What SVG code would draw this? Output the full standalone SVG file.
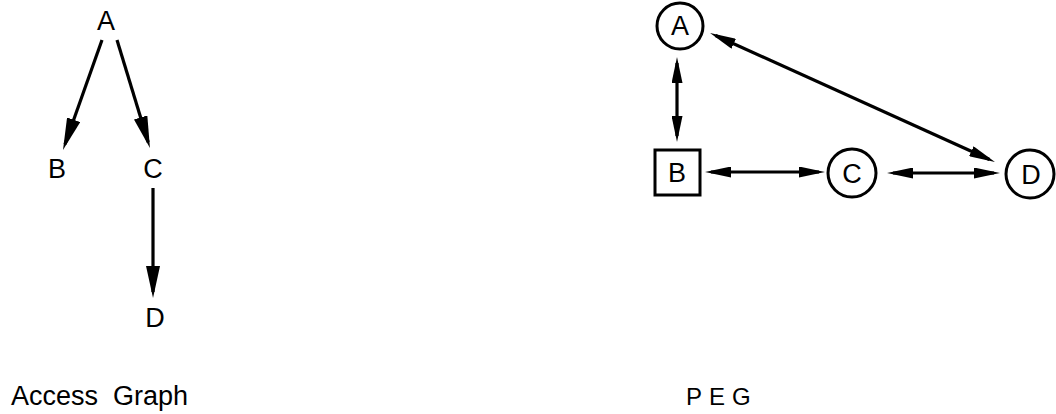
<svg xmlns="http://www.w3.org/2000/svg" width="1056" height="414" viewBox="0 0 1056 414">
<style>
text{font-family:"Liberation Sans",Arial,sans-serif;fill:#000;}
.lbl{font-size:27px;text-anchor:middle;}
.cap{font-size:27px;}
.edge{stroke:#000;stroke-width:3.2;fill:none;}
.shape{stroke:#000;stroke-width:3;fill:#fff;}
</style>
<defs>
<marker id="ahBig" viewBox="0 0 32 14" refX="26" refY="7" markerWidth="32" markerHeight="14" markerUnits="userSpaceOnUse" orient="auto-start-reverse">
<path d="M0,0 L32,7 L0,14 z" fill="#000"/>
</marker>
<marker id="ah" viewBox="0 0 26 11" refX="20" refY="5.5" markerWidth="26" markerHeight="11" markerUnits="userSpaceOnUse" orient="auto-start-reverse">
<path d="M0,0 L26,5.5 L0,11 z" fill="#000"/>
</marker>
</defs>
<rect width="1056" height="414" fill="#fff"/>

<g id="access-graph">
<g id="ag-A"><text class="lbl" x="106" y="30">A</text></g>
<g id="ag-B"><text class="lbl" x="57" y="178">B</text></g>
<g id="ag-C"><text class="lbl" x="153" y="178">C</text></g>
<g id="ag-D"><text class="lbl" x="155" y="327">D</text></g>
<g id="ag-connectors">
<line class="edge" x1="102" y1="40" x2="65" y2="144.3" marker-end="url(#ahBig)"/>
<line class="edge" x1="117" y1="40" x2="148.2" y2="142.3" marker-end="url(#ahBig)"/>
<line class="edge" x1="153" y1="188" x2="153" y2="292" marker-end="url(#ahBig)"/>
</g>
<text class="cap" x="11" y="405" xml:space="preserve">Access  Graph</text>
</g>

<g id="peg">
<g id="peg-A"><circle class="shape" cx="680" cy="26" r="23"/><text class="lbl" x="680" y="35">A</text></g>
<g id="peg-B"><rect class="shape" x="655" y="150" width="45" height="45"/><text class="lbl" x="677" y="182">B</text></g>
<g id="peg-C"><circle class="shape" cx="852" cy="173" r="24"/><text class="lbl" x="852" y="183">C</text></g>
<g id="peg-D"><circle class="shape" cx="1030" cy="174" r="24"/><text class="lbl" x="1031" y="184">D</text></g>
<g id="peg-connectors">
<line class="edge" x1="677" y1="63" x2="677" y2="136" marker-start="url(#ah)" marker-end="url(#ah)"/>
<line class="edge" x1="711" y1="172" x2="819" y2="172" marker-start="url(#ah)" marker-end="url(#ah)"/>
<line class="edge" x1="893" y1="173" x2="994" y2="173" marker-start="url(#ah)" marker-end="url(#ah)"/>
<line class="edge" x1="715.5" y1="35.5" x2="989.5" y2="159.5" marker-start="url(#ah)" marker-end="url(#ah)"/>
</g>
<text x="686" y="405" style="font-size:24px;letter-spacing:7px">PEG</text>
</g>
</svg>
